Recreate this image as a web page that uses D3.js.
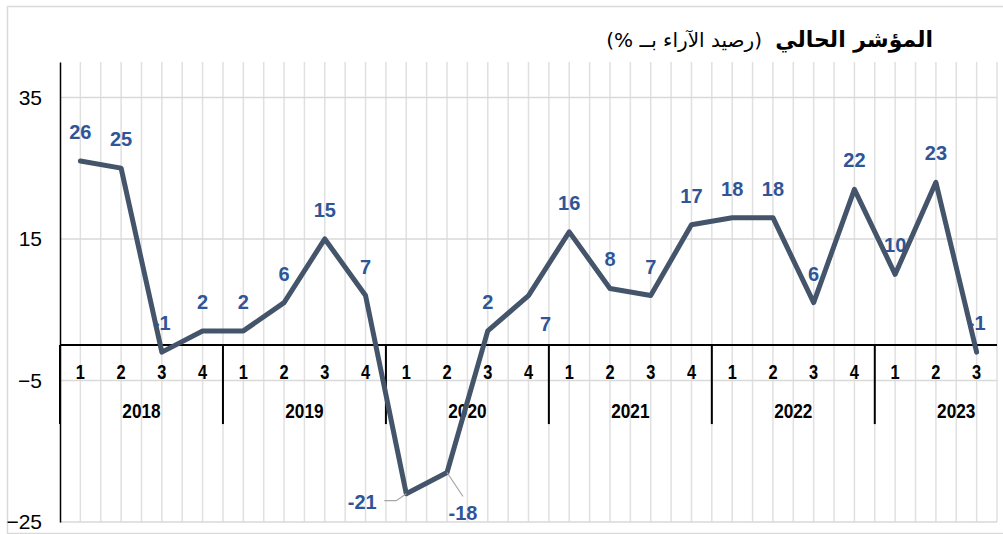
<!DOCTYPE html>
<html>
<head>
<meta charset="utf-8">
<script src="https://cdn.jsdelivr.net/npm/d3@7"></script>
<style>
  html, body { margin: 0; padding: 0; background: #fff; }
  svg { display: block; }
</style>
</head>
<body>
<svg id="chart" width="1003" height="534"></svg>
<script>
// ===== DATA =====
const years = ["2018", "2019", "2020", "2021", "2022", "2023"];
const quarters = ["1", "2", "3", "4"];
const values = [26, 25, -1, 2, 2, 6, 15, 7, -21, -18, 2, 7, 16, 8, 7, 17, 18, 18, 6, 22, 10, 23, -1];
const yTicks = [-25, -5, 15, 35];
const titleBold = "المؤشر الحالي";
const titleNote = "(رصيد الآراء بــ %)";

// categories: one per quarter, cut to the number of values
const cats = years.flatMap(y => quarters.map(q => ({year: y, q: q, key: y + "-" + q}))).slice(0, values.length);
const points = cats.map((c, i) => ({...c, v: values[i]}));

// ===== SETUP =====
const svg = d3.select("#chart");
const W = 1003, H = 534;
const margin = {top: 62, right: 6, bottom: 12, left: 60};

const x = d3.scaleBand().domain(cats.map(d => d.key)).range([margin.left, W - margin.right]).padding(0);
const y = d3.scaleLinear().domain([-25, 40]).range([H - margin.bottom, margin.top]);
const bw = x.bandwidth();

// outer frame
svg.append("rect").attr("x", 7.5).attr("y", 6.5).attr("width", 1000).attr("height", 527)
  .attr("fill", "none").attr("stroke", "#d9d9d9").attr("stroke-width", 1.5);

// ===== GRID =====
const gridX = [];
cats.forEach(c => { gridX.push(x(c.key)); gridX.push(x(c.key) + bw / 2); });
gridX.push(x.range()[1]);

svg.append("g").selectAll("line").data(gridX.slice(1)).join("line")
  .attr("x1", d => d).attr("x2", d => d)
  .attr("y1", y(40)).attr("y2", y(-25))
  .attr("stroke", "#e0e0e0").attr("stroke-width", 1.5);

svg.append("g").selectAll("line").data(yTicks).join("line")
  .attr("x1", margin.left).attr("x2", x.range()[1])
  .attr("y1", d => y(d)).attr("y2", d => y(d))
  .attr("stroke", "#d9d9d9").attr("stroke-width", 1.5);

// ===== Y AXIS =====
const yAxis = svg.append("g").attr("transform", `translate(${margin.left},0)`)
  .call(d3.axisLeft(y).tickValues(yTicks).tickSize(0).tickPadding(18));
yAxis.select(".domain").attr("stroke", "#000").attr("stroke-width", 1.5);
yAxis.selectAll("text").attr("font-family", "'Liberation Sans', Arial, sans-serif")
  .attr("font-size", 21).attr("fill", "#000");

// ===== CATEGORY AXIS (at zero) =====
const y0 = y(0);
const font = "'Liberation Sans', Arial, sans-serif";
svg.append("line").attr("x1", margin.left).attr("x2", x.range()[1])
  .attr("y1", y0).attr("y2", y0).attr("stroke", "#000").attr("stroke-width", 2);

svg.append("g").selectAll("line").data(years).join("line")
  .attr("x1", d => x(d + "-1")).attr("x2", d => x(d + "-1"))
  .attr("y1", y0).attr("y2", y0 + 79)
  .attr("stroke", "#000").attr("stroke-width", 2);

// condensed look: squeeze bold Liberation Sans horizontally
svg.append("g").selectAll("text").data(cats).join("text")
  .attr("transform", d => `translate(${x(d.key) + bw / 2},${y0 + 34}) scale(0.82,1)`)
  .attr("text-anchor", "middle")
  .attr("font-family", font).attr("font-weight", "bold").attr("font-size", 20)
  .text(d => d.q);

svg.append("g").selectAll("text").data(years).join("text")
  .attr("transform", d => `translate(${x(d + "-1") + bw * 2},${y0 + 73}) scale(0.82,1)`)
  .attr("text-anchor", "middle")
  .attr("font-family", font).attr("font-weight", "bold").attr("font-size", 21)
  .text(d => d);

// ===== LINE =====
const line = d3.line().x(d => x(d.key) + bw / 2).y(d => y(d.v));
svg.append("path").datum(points).attr("d", line)
  .attr("fill", "none").attr("stroke", "#44546A").attr("stroke-width", 5)
  .attr("stroke-linejoin", "round").attr("stroke-linecap", "round");

// ===== DATA LABELS =====
// special placements (dx, dy from point) + leader lines
const special = {
  "2020-1": {dx: -44, dy: 15, leader: [[-22, 7], [-10, 7], [0, 0]]},
  "2020-2": {dx: 16, dy: 48, leader: [[0, 0], [16, 24]]},
  "2020-4": {dx: 17, dy: 35}
};

const labels = svg.append("g");
points.forEach(d => {
  const px = x(d.key) + bw / 2, py = y(d.v);
  const s = special[d.key];
  if (s && s.leader) {
    labels.append("path")
      .attr("d", d3.line()(s.leader.map(p => [px + p[0], py + p[1]])))
      .attr("fill", "none").attr("stroke", "#a6a6a6").attr("stroke-width", 1.2);
  }
  labels.append("text")
    .attr("x", px + (s ? s.dx : 0)).attr("y", py + (s ? s.dy : -22))
    .attr("text-anchor", "middle")
    .attr("font-family", font)
    .attr("font-weight", "bold").attr("font-size", 20)
    .attr("fill", "#2F5597")
    .text(d.v);
});

// ===== TITLE =====
svg.append("text").attr("x", 933).attr("y", 47)
  .attr("text-anchor", "end")
  .attr("font-family", "'DejaVu Sans', sans-serif").attr("font-weight", "bold").attr("font-size", 22)
  .text(titleBold);
svg.append("text").attr("x", 762).attr("y", 47)
  .attr("direction", "rtl").attr("text-anchor", "start")
  .attr("font-family", "'DejaVu Sans', sans-serif").attr("font-size", 20)
  .text(titleNote);
</script>
</body>
</html>
